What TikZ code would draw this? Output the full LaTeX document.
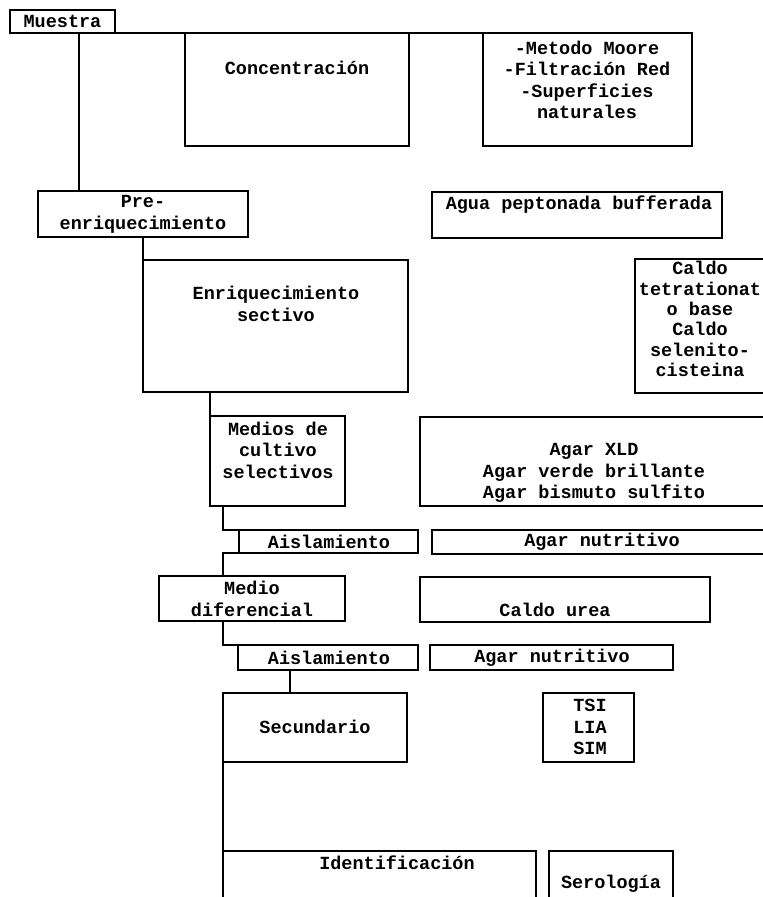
\documentclass[tikz,border=0pt]{standalone}
\usepackage{fontspec}
\setmonofont{Liberation Mono}
\usetikzlibrary{calc}
\begin{document}
\begin{tikzpicture}[x=1pt,y=-1pt,
  box/.style={draw, line width=2.3pt, anchor=north west, inner sep=0pt, outer sep=0pt, rectangle},
  txt/.style={font=\ttfamily\bfseries\fontsize{18.5}{21.5}\selectfont, align=center, inner sep=0pt},
  conn/.style={line width=2.3pt}]
\useasboundingbox (0,0) rectangle (763,897);
\clip (0,0) rectangle (763,897);
% boxes
\node[box, minimum width=105pt, minimum height=23pt] (muestra) at (10,10) {};
\node[box, minimum width=224pt, minimum height=113pt] (conc) at (185,33) {};
\node[box, minimum width=209pt, minimum height=113pt] (moore) at (483,33) {};
\node[box, minimum width=210pt, minimum height=46pt] (pre) at (38,191) {};
\node[box, minimum width=290pt, minimum height=46pt] (agua) at (432,192) {};
\node[box, minimum width=265pt, minimum height=132pt] (enriq) at (143,260) {};
\node[box, minimum width=135pt, minimum height=134pt] (caldo) at (635,259) {};
\node[box, minimum width=135pt, minimum height=90pt] (medios) at (210,416) {};
\node[box, minimum width=350pt, minimum height=89pt] (agarxld) at (420,417) {};
\node[box, minimum width=179pt, minimum height=23pt] (ais1) at (239,530) {};
\node[box, minimum width=340pt, minimum height=24pt] (agarnut1) at (432,530) {};
\node[box, minimum width=186pt, minimum height=45pt] (mdif) at (159,576) {};
\node[box, minimum width=290pt, minimum height=45pt] (urea) at (420,577) {};
\node[box, minimum width=180pt, minimum height=25pt] (ais2) at (238,645) {};
\node[box, minimum width=243pt, minimum height=25pt] (agarnut2) at (430,645) {};
\node[box, minimum width=184pt, minimum height=69pt] (sec) at (223,693) {};
\node[box, minimum width=91pt, minimum height=69pt] (tsi) at (543,693) {};
\node[box, minimum width=313pt, minimum height=60pt] (ident) at (223,851) {};
\node[box, minimum width=124pt, minimum height=60pt] (sero) at (549,851) {};
% texts
\node[txt] (tmuestra) at (62.5,21.5) {Muestra};
\node[txt] (tconc) at (297,68) {Concentración};
\node[txt] (tmoore) at (587,80) {-Metodo Moore\\-Filtración Red\\-Superficies\\naturales};
\node[txt] (tpre) at (143,214.5) {Pre-\\enriquecimiento};
\node[txt] (tagua) at (579,205) {Agua peptonada bufferada};
\node[txt] (tenriq) at (276,304) {Enriquecimiento\\sectivo};
\node[txt, font=\ttfamily\bfseries\fontsize{18.5}{20.4}\selectfont] (tcaldo) at (700,319) {Caldo\\tetrationat\\o base\\Caldo\\selenito-\\cisteina};
\node[txt] (tmedios) at (278,450) {Medios de\\cultivo\\selectivos};
\node[txt] (tagarxld) at (594,473) {Agar XLD\\Agar verde brillante\\Agar bismuto sulfito};
\node[txt] (tais1) at (329,542) {Aislamiento};
\node[txt] (tagarnut1) at (602,542) {Agar nutritivo};
\node[txt] (tmdif) at (252,599) {Medio\\diferencial};
\node[txt] (turea) at (555,610) {Caldo urea};
\node[txt] (tais2) at (329,658) {Aislamiento};
\node[txt] (tagarnut2) at (552,658) {Agar nutritivo};
\node[txt] (tsec) at (315,727) {Secundario};
\node[txt] (ttsi) at (590,727) {TSI\\LIA\\SIM};
\node[txt] (tident) at (397,863) {Identificación};
\node[txt] (tsero) at (611,884) {Serología};
% connectors
\draw[conn] (muestra.south east) -- (moore.north west);
\draw[conn] ([xshift=69pt]muestra.south west) -- ([xshift=69pt]muestra.south west |- pre.north);
\draw[conn] (enriq.north west |- pre.south) -- (enriq.north west);
\draw[conn] (medios.north west |- enriq.south) -- (medios.north west);
\draw[conn] ([xshift=13pt]medios.south west) |- (ais1.north west);
\draw[conn] (ais1.south west) -| ([xshift=64pt]mdif.north west);
\draw[conn] ([xshift=64pt]mdif.south west) |- (ais2.north west);
\draw[conn] ([xshift=52pt]ais2.south west) -- ([xshift=52pt]ais2.south west |- sec.north);
\draw[conn] (sec.south west) -- (ident.north west);
\end{tikzpicture}
\end{document}
